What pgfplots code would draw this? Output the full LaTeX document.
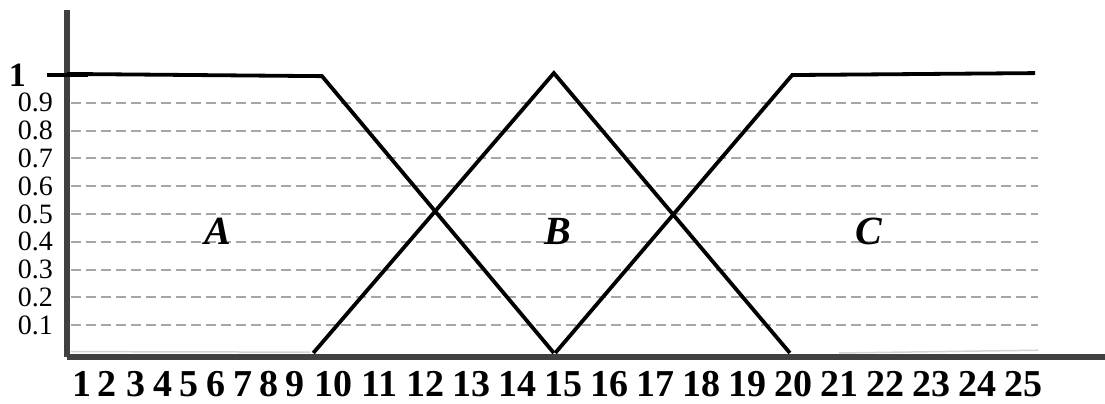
\documentclass[border=0pt]{standalone}
\usepackage{pgfplots}
\pgfplotsset{compat=1.18}
\usepackage{fontspec}
\setmainfont{Liberation Serif}
\usetikzlibrary{calc}
\definecolor{axisgray}{HTML}{404040}
\definecolor{gridgray}{HTML}{A6A6A6}
\begin{document}
\begin{tikzpicture}
\begin{axis}[
  name=ax,
  scale only axis, width=1038pt, height=347pt,
  xmin=4.217, xmax=26.78, ymin=-0.0144, ymax=1.234,
  axis lines=left,
  axis line style={-, axisgray, line width=6pt},
  clip=false,
  major tick length=0pt,
  xtick={4.537,5.093,5.717,6.30,6.87,7.457,8.037,8.615,9.174,10,11,12,13,14,15,16,17,18,19,20,21,22,23,24,25},
  xticklabels={1,2,3,4,5,6,7,8,9,10,11,12,13,14,15,16,17,18,19,20,21,22,23,24,25},
  xticklabel style={font=\fontsize{38}{38}\selectfont\bfseries, anchor=base, inner sep=0pt, yshift=-39pt},
  ytick={0.1,0.2,0.3,0.4,0.5,0.6,0.7,0.8,0.9,1},
  yticklabels={0.1,0.2,0.3,0.4,0.5,0.6,0.7,0.8,0.9,{\fontsize{34}{34}\selectfont\bfseries 1\kern27pt}},
  yticklabel style={font=\fontsize{28}{28}\selectfont, anchor=east, inner sep=0pt, xshift=-14pt},
]
% dashed guide lines
\pgfplotsinvokeforeach{0.1,0.2,0.3,0.4,0.5,0.6,0.7,0.8,0.9}{
  \addplot[gridgray, line width=2pt, dash pattern=on 10pt off 5pt] coordinates {(4.30,#1) (25.33,#1)};
}
% tick mark at 1
\addplot[black, line width=4.5pt] coordinates {(3.78,1) (4.67,1)};
% faint baseline remnants
\addplot[gray!35, line width=1.5pt] coordinates {(4.30,0.005) (9.5,0.003)};
\addplot[gray!35, line width=1.5pt] coordinates {(21.0,0.0) (25.33,0.01)};
% A
\addplot[black, line width=3.8pt] coordinates {(4.217,1.004) (9.76,0.996) (14.80,0)};
% B
\addplot[black, line width=3.8pt] coordinates {(9.57,0) (14.80,1.007) (19.93,0)};
% C
\addplot[black, line width=3.8pt] coordinates {(14.83,0) (19.98,1.0) (25.26,1.007)};
\node[font=\fontsize{40}{40}\selectfont\bfseries\itshape] at (axis cs:7.49,0.437) {A};
\node[font=\fontsize{40}{40}\selectfont\bfseries\itshape] at (axis cs:14.89,0.437) {B};
\node[font=\fontsize{40}{40}\selectfont\bfseries\itshape] at (axis cs:21.65,0.437) {C};
\end{axis}
\pgfresetboundingbox
\path[use as bounding box] ($(ax.south west)+(-67pt,-46pt)$) rectangle ($(ax.north east)+(0pt,10pt)$);
\end{tikzpicture}
\end{document}
